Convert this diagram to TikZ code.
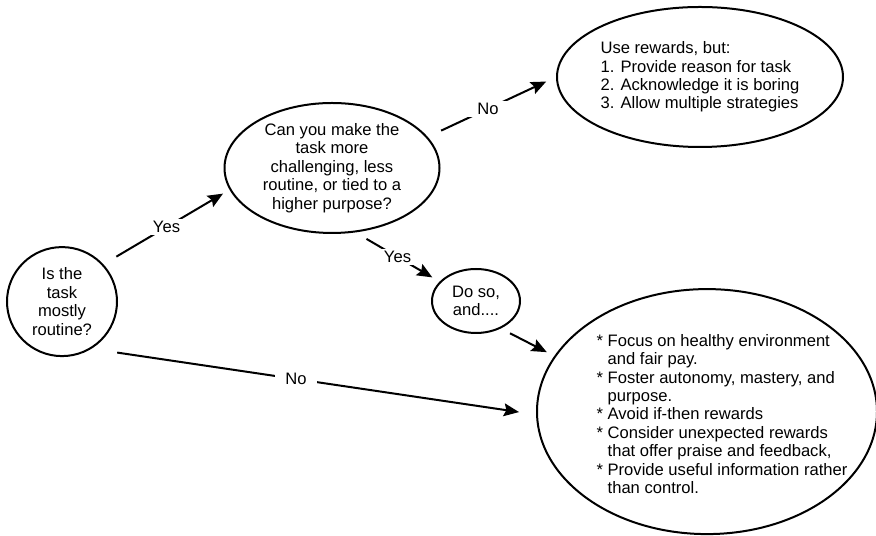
\documentclass[tikz,border=0pt]{standalone}
\usepackage{fontspec}
\setmainfont{Liberation Sans}
\usetikzlibrary{shapes.geometric,arrows.meta}

\begin{document}
\begin{tikzpicture}[
  font=\fontsize{11.8pt}{13.1pt}\selectfont,
  bubble/.style={draw, ellipse, line width=0.05cm, inner sep=0pt, align=center},
  flow/.style={line width=0.05cm, -{Stealth[length=0.38cm,width=0.32cm,inset=0.06cm]}},
  answer/.style={fill=white, inner xsep=0.25cm, inner ysep=0.05cm}
]
\useasboundingbox (0,0) rectangle (21.9,13.4);
\node[bubble, minimum width=2.75cm, minimum height=2.725cm] (routine) at (1.55,5.86) {Is the\\task\\mostly\\routine?};
\node[bubble, minimum width=5.375cm, minimum height=3.25cm] (harder) at (8.3,9.2) {Can you make the\\task more\\challenging, less\\routine, or tied to a\\higher purpose?};
\node[bubble, align=left, minimum width=7.15cm, minimum height=3.5cm] (rewards) at (17.5,11.475) {Use rewards, but:\\1. Provide reason for task\\2. Acknowledge it is boring\\3. Allow multiple strategies};
\node[bubble, minimum width=2.2cm, minimum height=1.6cm] (doso) at (11.9,5.875) {Do so,\\and....};
\node[bubble, minimum width=8.5cm, minimum height=6.125cm] (motivate) at (17.675,3.11) {};
\node[align=left] (motivatetext) at (18.05,3.05) {* Focus on healthy environment\\\hphantom{* }and fair pay.\\* Foster autonomy, mastery, and\\\hphantom{* }purpose.\\* Avoid if-then rewards\\* Consider unexpected rewards\\\hphantom{* }that offer praise and feedback,\\* Provide useful information rather\\\hphantom{* }than control.};

\draw[flow, shorten <=0.375cm, shorten >=0.19cm] (routine.42) -- node[answer] (yesharder) {Yes} (harder.192);
\draw[flow, shorten <=0.37cm, shorten >=0.27cm] (harder.18) -- node[answer, pos=0.47] (norewards) {No} (rewards.180);
\draw[flow, shorten <=0.32cm, shorten >=0.21cm] (harder.-70) -- node[answer] (yesdoso) {Yes} (doso.152);
\draw[flow, shorten <=0.26cm, shorten >=0.21cm] (doso.-48) -- (motivate.160);
\draw[flow, shorten <=0.65cm, shorten >=0.43cm] (routine.-58) -- node[answer, pos=0.46] (nomotivate) {No} (motivate.181);
\end{tikzpicture}
\end{document}
